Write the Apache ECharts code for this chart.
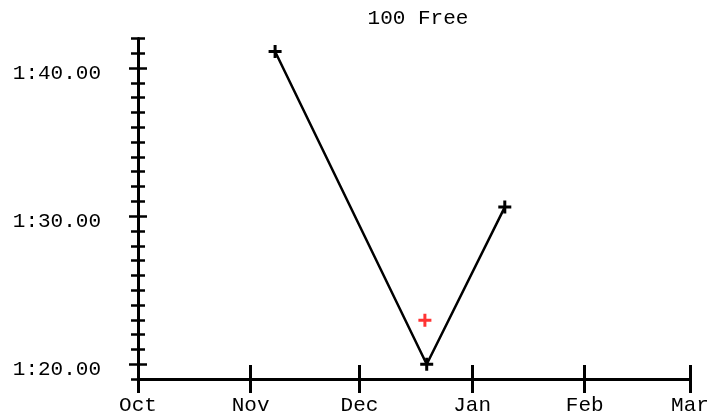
<!DOCTYPE html>
<html>
<head>
<meta charset="utf-8">
<script src="https://cdn.jsdelivr.net/npm/echarts@6/dist/echarts.min.js"></script>
<style>
html,body{margin:0;padding:0;background:#fff;}
#c{width:727px;height:417px;}
</style>
</head>
<body>
<div id="c"></div>
<script>
var title = '100 Free';
var swimDates = ['2023-11-07T18:00:00Z', '2023-12-19T12:00:00Z', '2024-01-10T00:00:00Z'];
var swimTimes = [101.12, 80.0, 90.61];
var otherDates = ['2023-12-19T00:00:00Z'];
var otherTimes = [82.97];
var monthTicks = ['2023-10-01T00:00:00Z', '2023-11-01T00:00:00Z', '2023-12-01T00:00:00Z', '2024-01-01T00:00:00Z', '2024-02-01T00:00:00Z', '2024-03-01T00:00:00Z'];
var monthLabels = ['Oct', 'Nov', 'Dec', 'Jan', 'Feb', 'Mar'];
var yMin = 79, yMax = 102;
var yMajor = [80, 90, 100];

var FONT = 'Liberation Mono';
var FS = 21;
var ms = monthTicks.map(function (d) { return Date.parse(d); });
var labelMap = {};
ms.forEach(function (t, i) { labelMap[t] = monthLabels[i]; });
function fmtTime(v) {
  var m = Math.floor(v / 60);
  var s = v - m * 60;
  var ss = s.toFixed(2);
  if (s < 10) ss = '0' + ss;
  return m + ':' + ss;
}
var plus = 'path://M5,0H8V5H13V8H8V13H5V8H0V5H5Z';

var chart = echarts.init(document.getElementById('c'), null, {renderer: 'canvas'});
var xBase = {
  type: 'value', position: 'bottom', min: ms[0], max: ms[ms.length - 1],
  splitLine: {show: false}
};
var yBase = {
  type: 'value', position: 'left', min: yMin, max: yMax, splitLine: {show: false}
};
chart.setOption({
  animation: false,
  backgroundColor: '#fff',
  title: {
    text: title, left: 413, top: 3, textAlign: 'center',
    textStyle: {fontFamily: FONT, fontSize: FS, fontWeight: 'normal', color: '#000'}
  },
  grid: {left: 138, right: 37, top: 38.5, bottom: 38, containLabel: false},
  xAxis: [
    Object.assign({}, xBase, {
      axisLine: {show: true, lineStyle: {color: '#000', width: 3}},
      axisTick: {show: true, length: 14, inside: false, customValues: ms, lineStyle: {color: '#000', width: 3}},
      axisLabel: {show: true, customValues: ms, margin: 16, fontFamily: FONT, fontSize: FS, color: '#000',
        formatter: function (v) { return labelMap[v] || ''; }}
    }),
    Object.assign({}, xBase, {
      axisLine: {show: false},
      axisTick: {show: true, length: 14, inside: true, customValues: ms, lineStyle: {color: '#000', width: 3}},
      axisLabel: {show: false}
    })
  ],
  yAxis: [
    Object.assign({}, yBase, {
      interval: 1,
      axisLine: {show: true, lineStyle: {color: '#000', width: 3}},
      axisTick: {show: true, length: 7, inside: false, lineStyle: {color: '#000', width: 2.5}},
      axisLabel: {show: true, customValues: yMajor, margin: 37, verticalAlign: 'top', lineHeight: 11,
        fontFamily: FONT, fontSize: FS, color: '#000', formatter: fmtTime}
    }),
    Object.assign({}, yBase, {
      interval: 1,
      axisLine: {show: false},
      axisTick: {show: true, length: 7, inside: true, lineStyle: {color: '#000', width: 2.5}},
      axisLabel: {show: false}
    }),
    Object.assign({}, yBase, {
      axisLine: {show: false},
      axisTick: {show: true, length: 9, inside: false, customValues: yMajor, lineStyle: {color: '#000', width: 2.5}},
      axisLabel: {show: false}
    }),
    Object.assign({}, yBase, {
      axisLine: {show: false},
      axisTick: {show: true, length: 9, inside: true, customValues: yMajor, lineStyle: {color: '#000', width: 2.5}},
      axisLabel: {show: false}
    })
  ],
  series: [
    {
      type: 'line', xAxisIndex: 0, yAxisIndex: 0,
      data: swimDates.map(function (d, i) { return [Date.parse(d), swimTimes[i]]; }),
      symbol: plus, symbolSize: 13, showSymbol: true,
      lineStyle: {color: '#000', width: 2.5},
      itemStyle: {color: '#000'}
    },
    {
      type: 'scatter', xAxisIndex: 0, yAxisIndex: 0,
      data: otherDates.map(function (d, i) { return [Date.parse(d), otherTimes[i]]; }),
      symbol: plus, symbolSize: 13,
      itemStyle: {color: '#ff0000'}
    }
  ]
});
</script>
</body>
</html>
